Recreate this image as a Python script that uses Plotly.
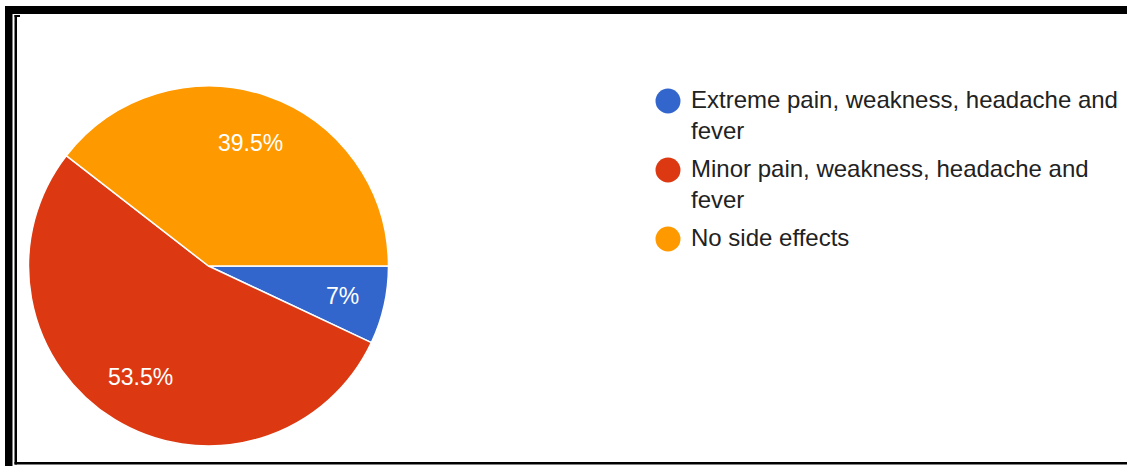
import math
import plotly.graph_objects as go

# Survey answers and their shares (percent)
categories = [
    "Extreme pain, weakness, headache and<br>fever",
    "Minor pain, weakness, headache and<br>fever",
    "No side effects",
]
shares = [7, 53.5, 39.5]
colors = ["#3366CC", "#DC3912", "#FF9900"]
title_text = "Side effects after vaccination"

W, H = 1127, 466
CX, CY, R = 208.5, 266.0, 180.0  # pie centre / radius in pixels


def px(x):
    return x / W


def py(y):
    return 1 - y / H


fig = go.Figure()

fig.add_trace(go.Pie(
    labels=categories,
    values=shares,
    sort=False,
    direction="clockwise",
    rotation=90,
    marker=dict(colors=colors, line=dict(color="white", width=1.5)),
    textinfo="none",
    hoverinfo="label+percent",
    showlegend=False,
    domain=dict(x=[px(CX - R), px(CX + R)], y=[py(CY + R), py(CY - R)]),
))

annotations = []
shapes = []

# Percent labels placed at each slice's mid angle
total = sum(shares)
acc = 0.0
for v in shares:
    frac = v / total
    mid = (acc + frac / 2) * 2 * math.pi
    acc += frac
    # narrow slices push their label a little further out
    k = 0.76 if frac < 0.1 else 0.72
    lx = CX + k * R * math.cos(mid)
    ly = CY + k * R * math.sin(mid)
    annotations.append(dict(
        x=px(lx), y=py(ly), xref="paper", yref="paper",
        text=f"{v:g}%", showarrow=False,
        xanchor="center", yanchor="middle",
        font=dict(family="Liberation Sans, Arial", size=23, color="white"),
    ))

# Legend drawn with circle markers and wrapped labels
first_line = 101.0
line_h = 31.0
gap = 7.0
for label, col in zip(categories, colors):
    n_lines = label.count("<br>") + 1
    shapes.append(dict(
        type="circle", xref="paper", yref="paper",
        x0=px(655.5), x1=px(680.5), y0=py(first_line + 12.5), y1=py(first_line - 12.5),
        fillcolor=col, line=dict(width=0),
    ))
    annotations.append(dict(
        x=px(689), y=py(first_line - 16.6), xref="paper", yref="paper",
        text=label, showarrow=False, align="left",
        xanchor="left", yanchor="top",
        font=dict(family="Liberation Sans, Arial", size=24, color="#222222"),
    ))
    first_line += n_lines * line_h + gap

# Heading sitting above the frame, mostly above the page edge
annotations.append(dict(
    x=px(60), y=py(6.5), xref="paper", yref="paper",
    text=title_text, showarrow=False, xanchor="left", yanchor="bottom",
    font=dict(family="Liberation Sans, Arial", size=24, color="#9a9a9a"),
))

# Black double frame
frame = [
    (5, 6, W, 14),        # top thick band
    (5, 6, 12.5, H),      # left thick band
    (14.5, 15, 17, 464.5),  # inner left line
    (14.5, 15, 20, 17),   # inner top stub
    (14.5, 462, W, 464.5),  # inner bottom line
]
for x0, y0, x1, y1 in frame:
    shapes.append(dict(
        type="rect", xref="paper", yref="paper",
        x0=px(x0), x1=px(x1), y0=py(y1), y1=py(y0),
        fillcolor="black", line=dict(width=0),
    ))

fig.update_layout(
    width=W, height=H,
    margin=dict(l=0, r=0, t=0, b=0),
    paper_bgcolor="white",
    plot_bgcolor="white",
    annotations=annotations,
    shapes=shapes,
)

fig.write_html("out.html")
